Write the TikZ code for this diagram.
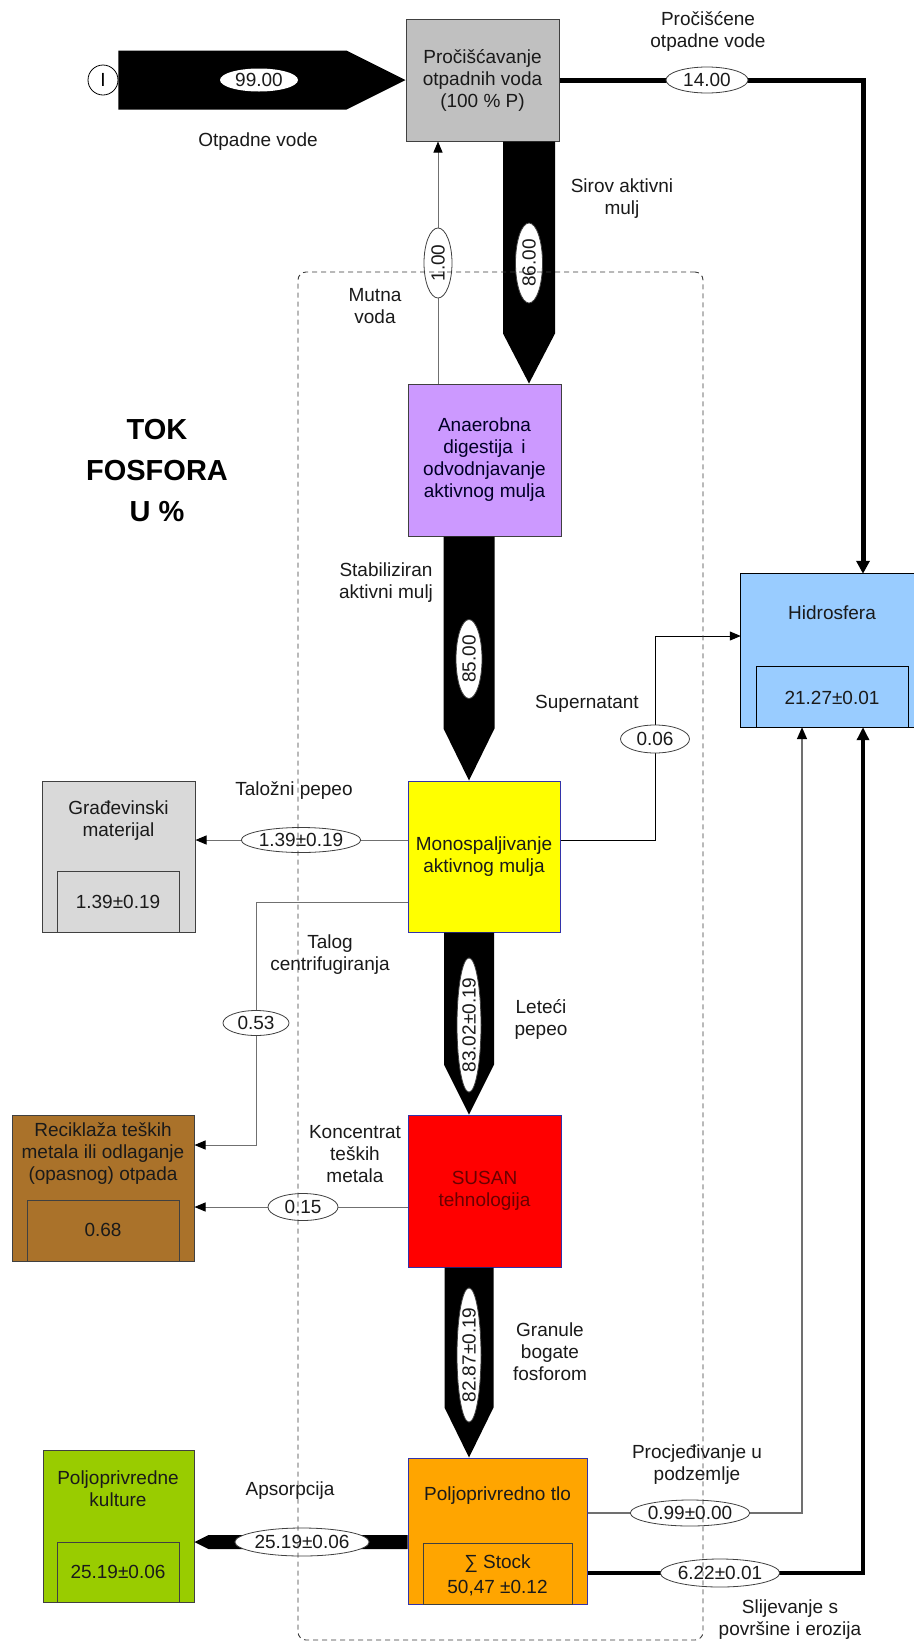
\documentclass[tikz,border=0pt]{standalone}
\usepackage{fontspec}
\setmainfont{Liberation Sans}
\usetikzlibrary{shapes.geometric,arrows.meta,calc}
\definecolor{procgray}{HTML}{C0C0C0}
\definecolor{lav}{HTML}{CC99FF}
\definecolor{yel}{HTML}{FFFF00}
\definecolor{redbox}{HTML}{FF0000}
\definecolor{orng}{HTML}{FFA500}
\definecolor{hyd}{HTML}{99CCFF}
\definecolor{gradc}{HTML}{D9D9D9}
\definecolor{brownbox}{HTML}{AA722A}
\definecolor{greenbox}{HTML}{99CC00}
\definecolor{bordr}{HTML}{404040}
\definecolor{bordb}{HTML}{3333AA}
\definecolor{linegray}{HTML}{707070}
\definecolor{txt}{HTML}{1A1A1A}
\definecolor{susantxt}{HTML}{6A0000}
\definecolor{dashc}{HTML}{3A3A3A}
\newcommand\dgfont{\fontsize{19}{22}\selectfont}
\newcommand\flowdown[4]{\fill[black] ($(#1)+(-#3,0)$) -- ($(#1)+(#3,0)$) -- ($(#2)+(#3,-#4)$) -- (#2) -- ($(#2)+(-#3,-#4)$) -- cycle;}
\newcommand\flowright[4]{\fill[black] ($(#1)+(0,-#3)$) -- ($(#2)+(-#4,-#3)$) -- (#2) -- ($(#2)+(-#4,#3)$) -- ($(#1)+(0,#3)$) -- cycle;}
\newcommand\flowleft[4]{\fill[black] ($(#1)+(0,-#3)$) -- ($(#2)+(#4,-#3)$) -- (#2) -- ($(#2)+(#4,#3)$) -- ($(#1)+(0,#3)$) -- cycle;}
\tikzset{
  box/.style={rectangle, draw=bordr, line width=1pt, inner sep=0pt, align=center, text=txt, font=\dgfont},
  inbox/.style={rectangle, draw=bordr, line width=1pt, inner sep=0pt},
  val/.style={ellipse, draw=bordr, line width=0.8pt, fill=white, inner sep=0pt, font=\dgfont, text=txt},
  lbl/.style={align=center, font=\dgfont, text=txt, inner sep=0pt},
  conn/.style={draw=linegray, line width=1pt, -{Triangle[length=11pt,width=9pt,color=black]}},
}
\begin{document}
\begin{tikzpicture}[x=1pt,y=-1pt]
\useasboundingbox (0,0) rectangle (914,1642);
\fill[white] (0,0) rectangle (914,1642);
% helper coordinates
\coordinate (x529) at (529,0);
\coordinate (x469) at (469,0);
\coordinate (x438) at (438,0);
\coordinate (x863) at (863,0);
\coordinate (x802) at (802,0);
\coordinate (y840) at (0,840);
\coordinate (y1145) at (0,1145);
\coordinate (y1207) at (0,1207);
\coordinate (y1513) at (0,1513);
\coordinate (y1542) at (0,1542);
\coordinate (y1573) at (0,1573);
\coordinate (kSup) at (655,636);
\coordinate (kTal) at (256,902);
% boxes
\node[box, fill=procgray, minimum width=153pt, minimum height=122pt] (proc) at (482.5,80) {Pročišćavanje\\otpadnih voda\\(100 \% P)};
\node[box, fill=lav, minimum width=153pt, minimum height=152pt, text=black!85!blue] (anaer) at (484.5,460) {Anaerobna\\digestija\, i\\odvodnjavanje\\aktivnog mulja};
\node[box, fill=yel, draw=bordb, minimum width=152pt, minimum height=151pt] (mono) at (484,856.5) {Monospaljivanje\\aktivnog mulja};
\node[box, fill=redbox, draw=bordb, minimum width=153pt, minimum height=152pt, text=susantxt] (susan) at (484.5,1191) {\raisebox{-4pt}{\begin{tabular}{@{}c@{}}SUSAN\\tehnologija\end{tabular}}};
\node[box, fill=orng, draw=bordb, minimum width=179pt, minimum height=146pt] (tlo) at (497.5,1531) {};
\node[inbox, minimum width=149pt, minimum height=61pt] (tloin) at (497.5,1573.5) {};
\node[lbl] (tloT) at (497.5,1496) {Poljoprivredno tlo};
\node[lbl, font=\fontsize{19}{25}\selectfont] (tloV) at (497.5,1575.5) {∑ Stock\\50,47 ±0.12};
\node[rectangle, fill=hyd, inner sep=0pt, minimum width=173pt, minimum height=153pt] (hydro) at (827.5,650.5) {};
\draw[black, line width=1pt] (hydro.north east) -- (hydro.north west) -- (hydro.south west) -- (hydro.south east);
\node[inbox, draw=black, minimum width=152pt, minimum height=61pt] (hydin) at (832,696.5) {};
\node[lbl] (hydT) at (832,613) {Hidrosfera};
\node[lbl] (hydV) at (832,698) {21.27±0.01};
\node[box, fill=gradc, minimum width=153pt, minimum height=151pt] (grad) at (118.5,856.5) {};
\node[inbox, minimum width=122pt, minimum height=61pt] (gradin) at (118,901.5) {};
\node[lbl] (gradT) at (118.5,821) {Građevinski\\materijal};
\node[lbl] (gradV) at (118,902) {1.39±0.19};
\node[box, fill=brownbox, minimum width=182pt, minimum height=146pt] (recik) at (103,1188) {};
\node[inbox, minimum width=152pt, minimum height=61pt] (recikin) at (103,1230.5) {};
\node[lbl] (recikT) at (103,1153.5) {Reciklaža teških\\metala ili odlaganje\\(opasnog) otpada};
\node[lbl] (recikV) at (103,1230) {0.68};
\node[box, fill=greenbox, minimum width=151pt, minimum height=152pt] (kult) at (118.5,1526) {};
\node[inbox, minimum width=122pt, minimum height=60pt] (kultin) at (118,1572) {};
\node[lbl] (kultT) at (118,1488.5) {Poljoprivredne\\kulture};
\node[lbl] (kultV) at (118,1572) {25.19±0.06};
% source
\node[circle, draw=black, line width=0.8pt, fill=white, minimum size=30pt, inner sep=0pt, font=\dgfont] (src) at (103,80) {I};
% big flows
\flowright{src.east}{proc.west}{29.5}{59}
\coordinate (a86s) at (proc.south -| x529);
\coordinate (a86e) at (anaer.north -| x529);
\flowdown{a86s}{a86e}{26}{50}
\coordinate (a85s) at (anaer.south -| x469);
\coordinate (a85e) at (mono.north -| x469);
\flowdown{a85s}{a85e}{25.5}{52}
\coordinate (a83s) at (mono.south -| x469);
\coordinate (a83e) at (susan.north -| x469);
\flowdown{a83s}{a83e}{25}{50}
\coordinate (a82s) at (susan.south -| x469);
\coordinate (a82e) at (tlo.north -| x469);
\flowdown{a82s}{a82e}{24.5}{50}
\coordinate (a25s) at (tlo.west |- y1542);
\coordinate (a25e) at (kult.east |- y1542);
\flowleft{a25s}{a25e}{7}{14}
% thin and thick connectors
\draw[conn] (anaer.north -| x438) -- (proc.south -| x438);
\draw[black, line width=5pt, -{Triangle[length=13pt,width=13pt]}] (proc.east) -| (hydro.north -| x863);
\draw[black, line width=1pt, -{Triangle[length=11pt,width=9pt]}] (mono.east |- y840) -| (kSup) -- (hydro.west |- kSup);
\draw[conn] (mono.west |- y840) -- (grad.east |- y840);
\draw[conn] (mono.west |- kTal) -- (kTal) |- (recik.east |- y1145);
\draw[conn] (susan.west |- y1207) -- (recik.east |- y1207);
\draw[draw=linegray, line width=1.5pt, -{Triangle[length=12pt,width=10pt,color=black]}] (tlo.east |- y1513) -| (hydro.south -| x802);
\draw[black, line width=3.5pt, -{Triangle[length=13pt,width=12pt]}] (tlo.east |- y1573) -| (hydro.south -| x863);
% value ellipses
\node[val, draw=none, minimum width=78pt, minimum height=23pt] (e99) at (259,80) {99.00};
\node[val, minimum width=82pt, minimum height=26pt] (e14) at (707,80) {14.00};
\node[val, rotate=90, minimum width=70pt, minimum height=28pt] (e100) at (438,263) {1.00};
\node[val, rotate=90, minimum width=80pt, minimum height=27pt] (e86) at (529,263) {86.00};
\node[val, rotate=90, minimum width=79pt, minimum height=26pt] (e85) at (469,659) {85.00};
\node[val, minimum width=69pt, minimum height=28pt] (e006) at (655,739) {0.06};
\node[val, minimum width=118pt, minimum height=25pt] (e139) at (301,840) {1.39±0.19};
\node[val, minimum width=66pt, minimum height=25pt] (e053) at (256,1023) {0.53};
\node[val, rotate=90, minimum width=122pt, minimum height=24pt] (e8302) at (469,1025) {83.02±0.19};
\node[val, minimum width=70pt, minimum height=27pt] (e015) at (303,1207) {0.15};
\node[val, rotate=90, minimum width=112pt, minimum height=24pt] (e8287) at (469,1355) {82.87±0.19};
\node[val, minimum width=127pt, minimum height=28pt] (e2519) at (302,1542) {25.19±0.06};
\node[val, minimum width=119pt, minimum height=26pt] (e099) at (690,1513) {0.99±0.00};
\node[val, minimum width=118pt, minimum height=28pt] (e622) at (720,1573) {6.22±0.01};
% labels
\node[lbl] (lOtp) at (258,142) {Otpadne vode};
\node[lbl] (lPro) at (708,31.5) {Pročišćene\\otpadne vode};
\node[lbl] (lSir) at (622,198.5) {Sirov aktivni\\mulj};
\node[lbl] (lMut) at (375,306) {Mutna\\voda};
\node[lbl] (lSta) at (386,582.5) {Stabiliziran\\aktivni mulj};
\node[lbl] (lSup) at (587,704) {Supernatant};
\node[lbl] (lTal) at (294,791) {Taložni pepeo};
\node[lbl] (lCen) at (330,955) {Talog\\centrifugiranja};
\node[lbl] (lLet) at (541,1019) {Leteći\\pepeo};
\node[lbl] (lKon) at (355,1154.5) {Koncentrat\\teških\\metala};
\node[lbl] (lGra) at (550,1351.5) {Granule\\bogate\\fosforom};
\node[lbl] (lAps) at (290,1491) {Apsorpcija};
\node[lbl] (lPod) at (697,1464.5) {Procjeđivanje u\\podzemlje};
\node[lbl] (lSli) at (790,1620) {Slijevanje s\\površine i erozija};
\node[align=center, inner sep=0pt, font=\fontsize{29}{41}\selectfont\bfseries] (title) at (157,471) {TOK\\FOSFORA\\U \%};
% system boundary
\node[draw=dashc, line width=0.9pt, dash pattern=on 5pt off 4pt, rounded corners=8pt, inner sep=0pt, minimum width=405pt, minimum height=1368pt] (sysb) at (500.5,956) {};
\end{tikzpicture}
\end{document}
